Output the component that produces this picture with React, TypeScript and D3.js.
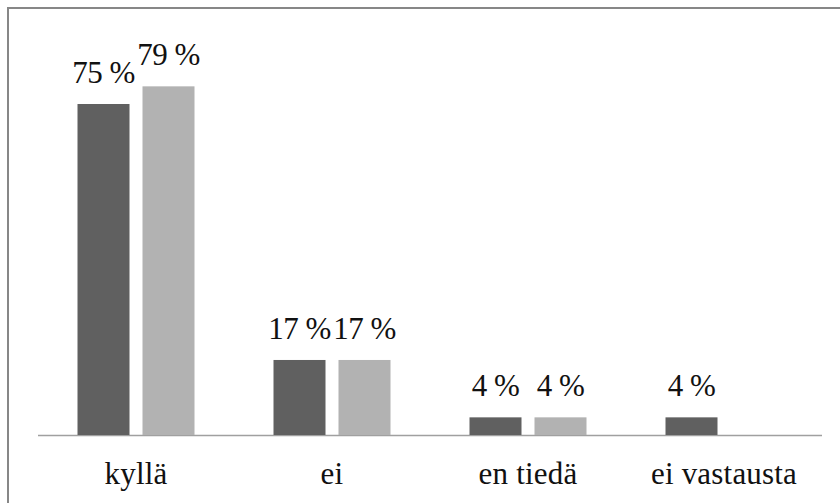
import React from "react";
import * as d3 from "d3";

const categories = ["kyllä", "ei", "en tiedä", "ei vastausta"];
const series = ["A", "B"];
const seriesA = [75, 17, 4, 4];
const seriesB: (number | null)[] = [79, 17, 4, null];
const colors = ["#606060", "#b2b2b2"];

const W = 840;
const H = 503;
const baseY = 435;
const x0 = 38;
const x1 = 822;

export default function App() {
  const x = d3.scaleBand<string>().domain(categories).range([x0, x1]);
  const xs = d3.scaleBand<string>().domain(series).range([0, 117]).paddingInner(0.2);
  const y = d3.scaleLinear().domain([0, 75]).range([baseY, 104]);
  const data = [seriesA, seriesB];
  const textStyle = { fontFamily: '"Liberation Serif", "DejaVu Serif", "Times New Roman", serif' };
  return (
    <svg width={W} height={H} style={{ position: "absolute", left: 0, top: 0, background: "#fff" }}>
      <rect x={8} y={8} width={W + 20} height={H + 20} fill="#fff" stroke="#878787" strokeWidth={2} />
      <line x1={x0} x2={x1} y1={baseY + 0.5} y2={baseY + 0.5} stroke="#a0a0a0" strokeWidth={1.5} />
      {categories.map((c, i) => {
        const cx = (x(c) as number) + x.bandwidth() / 2;
        return (
          <g key={c}>
            {data.map((s, j) => {
              const v = s[i];
              if (v == null) return null;
              const bx = cx - 117 / 2 + (xs(series[j]) as number);
              const bw = xs.bandwidth();
              return (
                <g key={j}>
                  <rect x={bx} y={y(v)} width={bw} height={baseY - y(v)} fill={colors[j]} />
                  <text x={bx + bw / 2} y={y(v) - 21} textAnchor="middle" style={textStyle} fontSize={31} fill="#111" letterSpacing={-0.5}>
                    {v} %
                  </text>
                </g>
              );
            })}
            <text x={cx} y={484} textAnchor="middle" style={textStyle} fontSize={31} fill="#111" letterSpacing={0.2}>
              {c}
            </text>
          </g>
        );
      })}
    </svg>
  );
}
